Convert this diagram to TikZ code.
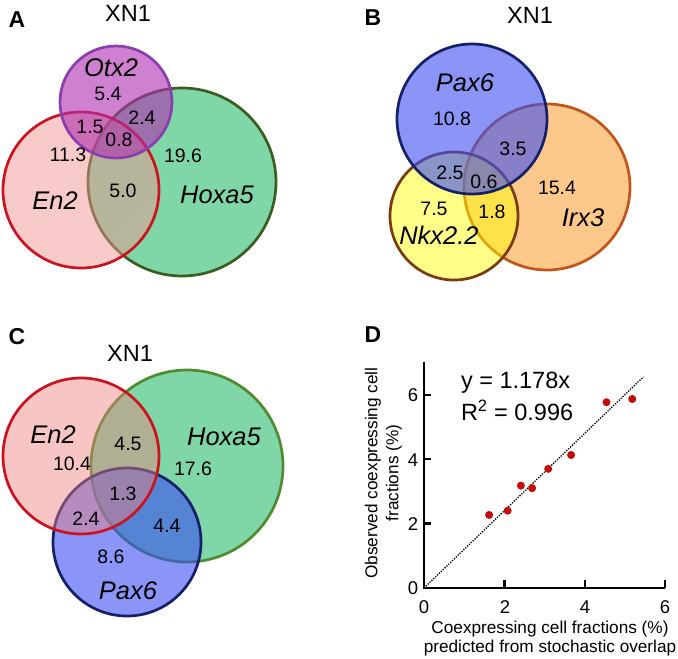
\documentclass[tikz,border=0pt]{standalone}
\usepackage{fontspec}
\setmainfont{Liberation Sans}

\definecolor{enfill}{HTML}{EE817C}
\definecolor{enline}{HTML}{CC121E}
\definecolor{hoxafill}{HTML}{7FD6A7}
\definecolor{hoxaline}{HTML}{3D5C20}
\definecolor{hoxalineC}{HTML}{4F8B2F}
\definecolor{otxfill}{HTML}{B02CB0}
\definecolor{otxline}{HTML}{8B3DAE}
\definecolor{paxfill}{HTML}{3C4EF2}
\definecolor{paxline}{HTML}{14206A}
\definecolor{irxfill}{HTML}{FDC98B}
\definecolor{irxline}{HTML}{C2561A}
\definecolor{nkxfill}{HTML}{FFFF00}
\definecolor{nkxline}{HTML}{7A3A12}
\definecolor{dotred}{HTML}{C40A0A}

\begin{document}
\begin{tikzpicture}[x=1pt, y=-1pt,
  every node/.style={inner sep=0pt, outer sep=0pt},
  num/.style={font=\fontsize{19.5}{20}\selectfont},
  gene/.style={font=\fontsize{25.5}{26}\selectfont\itshape},
  title/.style={font=\fontsize{23.5}{24}\selectfont},
  panel/.style={font=\fontsize{23}{24}\selectfont\bfseries},
  axlabel/.style={font=\fontsize{17.2}{18}\selectfont},
  ticklabel/.style={font=\fontsize{18.5}{19}\selectfont},
  ring/.style={line width=2.7pt}]
\useasboundingbox (0,0) rectangle (678,659);

\node[panel] (labA) at (17,20) {A};
\node[title] (titleA) at (128,13) {XN1};
\draw[ring, draw=hoxaline, fill=hoxafill] (182,182) circle[radius=94pt];
\draw[ring, draw=enline, fill=enfill, fill opacity=.45] (81,190) circle[radius=78pt];
\begin{scope}
\clip (81,190) circle[radius=76.5pt];
\foreach \k in {-54,...,54}
  \draw[white, opacity=.22, line width=.7pt] (3+3*\k,268) -- (159+3*\k,112);
\end{scope}
\draw[ring, draw=otxline, fill=otxfill, fill opacity=.6] (116,102) circle[radius=56pt];
\node[gene] (otxA) at (111,68) {Otx2};
\node[num] (a54) at (108,94) {5.4};
\node[num] (a15) at (90,127) {1.5};
\node[num] (a24) at (142,118) {2.4};
\node[num] (a08) at (119,140) {0.8};
\node[num] (a113) at (68,155) {11.3};
\node[num] (a196) at (183,156) {19.6};
\node[num] (a50) at (123,191) {5.0};
\node[gene] (enA) at (55,201) {En2};
\node[gene] (hoxaA) at (217,195) {Hoxa5};

\node[panel] (labB) at (373,18) {B};
\node[title] (titleB) at (530,15) {XN1};
\draw[ring, draw=irxline, fill=irxfill] (547,187) circle[radius=83pt];
\draw[ring, draw=nkxline, fill=nkxfill, fill opacity=.47] (454,216) circle[radius=64pt];
\draw[ring, draw=paxline, fill=paxfill, fill opacity=.6] (472,119) circle[radius=75pt];
\node[gene] (paxB) at (465,83) {Pax6};
\node[num] (b108) at (452,119) {10.8};
\node[num] (b35) at (513,149) {3.5};
\node[num] (b25) at (450,173) {2.5};
\node[num] (b06) at (484,182) {0.6};
\node[num] (b154) at (557,188) {15.4};
\node[num] (b75) at (434,209) {7.5};
\node[num] (b18) at (492,212) {1.8};
\node[gene] (irxB) at (583,218) {Irx3};
\node[gene] (nkxB) at (439,235) {Nkx2.2};

\node[panel] (labC) at (17,337) {C};
\node[title] (titleC) at (130,353) {XN1};
\draw[ring, draw=hoxalineC, fill=hoxafill] (187,466) circle[radius=96pt];
\draw[ring, draw=paxline, fill=paxfill, fill opacity=.6] (127,542) circle[radius=74pt];
\draw[ring, draw=enline, fill=enfill, fill opacity=.45] (81,456) circle[radius=78pt];
\node[gene] (enC) at (53,435) {En2};
\node[num] (c45) at (128,444) {4.5};
\node[gene] (hoxaC) at (224,437) {Hoxa5};
\node[num] (c104) at (72,464) {10.4};
\node[num] (c176) at (193,469) {17.6};
\node[num] (c13) at (123,494) {1.3};
\node[num] (c24) at (86,519) {2.4};
\node[num] (c44) at (167,526) {4.4};
\node[num] (c86) at (111,557) {8.6};
\node[gene] (paxC) at (128,591) {Pax6};

\node[panel] (labD) at (373,335) {D};
\begin{scope}[shift={(424,588)}, x=40.2pt, y=32.2pt]
\draw[line width=1.3pt, dash pattern=on 1.3pt off 1.3pt] (0,0) -- (5.46,6.56);
\draw[line width=2.3pt] (0,7.03) -- (0,0) -- (6,0);
\foreach \t in {2,4,6} {
  \draw[line width=2.3pt] (\t,0) -- (\t,.25);
  \draw[line width=2.3pt] (0,\t) -- (.18,\t);
}
\foreach \px/\py in {1.62/2.27, 2.08/2.40, 2.41/3.18, 2.69/3.10, 3.09/3.70, 3.66/4.13, 4.54/5.77, 5.18/5.87}
  \fill[dotred] (\px,\py) circle[radius=4pt];
\end{scope}
\node[ticklabel] (x0) at (424,607) {0};
\node[ticklabel] (x2) at (505,607) {2};
\node[ticklabel] (x4) at (585,607) {4};
\node[ticklabel] (x6) at (665,607) {6};
\node[ticklabel] (y0) at (413,588) {0};
\node[ticklabel] (y2) at (413,524) {2};
\node[ticklabel] (y4) at (413,460) {4};
\node[ticklabel] (y6) at (413,395) {6};
\node[title, anchor=west] (fit) at (461,383) {y = 1.178x};
\node[title, anchor=west] (rsq) at (461,410) {R\textsuperscript{2} = 0.996};
\node[axlabel, rotate=90] (ylab1) at (373,473) {Observed coexpressing cell};
\node[axlabel, rotate=90] (ylab2) at (394,473) {fractions (\%)};
\node[axlabel] (xlab1) at (550,629) {Coexpressing cell fractions (\%)};
\node[axlabel] (xlab2) at (550,648) {predicted from stochastic overlap};
\end{tikzpicture}
\end{document}
